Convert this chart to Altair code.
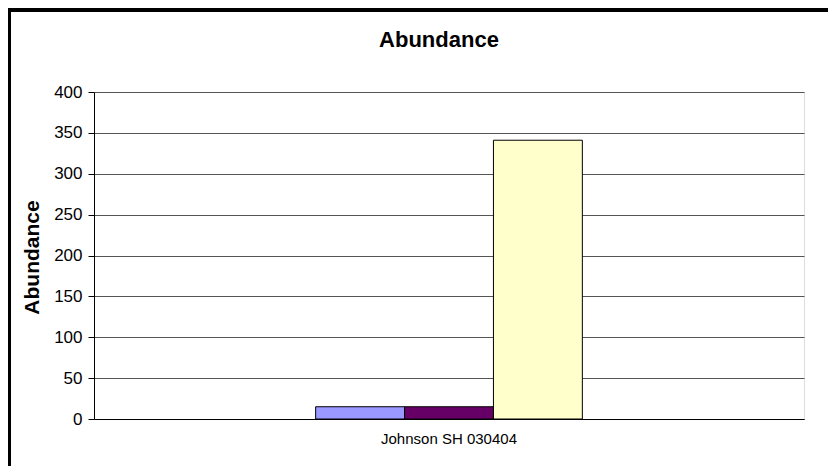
import altair as alt
import pandas as pd

site = ["Johnson SH 030404", "Johnson SH 030404", "Johnson SH 030404"]
series = ["Series 1", "Series 2", "Series 3"]
values = [15, 15, 341]
colors = ["#9999FF", "#660066", "#FFFFCC"]
y_ticks = [0, 50, 100, 150, 200, 250, 300, 350, 400]
chart_title = "Abundance"

df = pd.DataFrame({"site": site, "series": series, "value": values})

FONT = "Liberation Sans"

bars = alt.Chart(df).mark_bar(stroke="black", strokeWidth=1).encode(
    x=alt.X("site:N", title=None,
            scale=alt.Scale(paddingInner=0, paddingOuter=0.831),
            axis=alt.Axis(labelAngle=0, ticks=False, domainColor="black",
                          labelFontSize=15, labelPadding=12, labelFont=FONT,
                          labelColor="black")),
    xOffset=alt.XOffset("series:N", sort=series,
                        scale=alt.Scale(paddingInner=0, paddingOuter=0)),
    y=alt.Y("value:Q", title="Abundance",
            scale=alt.Scale(domain=[0, 400], nice=False),
            axis=alt.Axis(values=y_ticks, grid=True, gridColor="#555555",
                          domainColor="black", tickColor="black", tickSize=6,
                          labelFontSize=17, labelFont=FONT, labelColor="black",
                          labelPadding=6,
                          titleFontSize=21, titleFont=FONT, titleFontWeight="bold",
                          titleColor="black", titleAngle=270, titleX=-62,
                          titleY=165, titleAlign="center", titleBaseline="middle")),
    color=alt.Color("series:N", sort=series, legend=None,
                    scale=alt.Scale(domain=series, range=colors)),
)

one = pd.DataFrame({"t": [chart_title]})

title = alt.Chart(one).mark_text(
    font=FONT, fontSize=22, fontWeight="bold", color="black",
    align="center", baseline="alphabetic"
).encode(text="t:N", x=alt.value(345), y=alt.value(-45))

left_border = alt.Chart(one).mark_rule(color="black", strokeWidth=4).encode(
    x=alt.value(-85), y=alt.value(-86), y2=alt.value(420)
)
top_border = alt.Chart(one).mark_rule(color="black", strokeWidth=4).encode(
    y=alt.value(-82), x=alt.value(-87), x2=alt.value(780)
)

chart = alt.layer(bars, title, left_border, top_border).properties(
    width=710, height=327,
    autosize=alt.AutoSizeParams(type="none"),
    padding={"left": 86, "top": 84, "right": 24, "bottom": 47},
).configure_view(stroke="#808080", strokeWidth=1).configure(background="white")

chart.save("out.html", embed_options={"renderer": "svg", "actions": False})
